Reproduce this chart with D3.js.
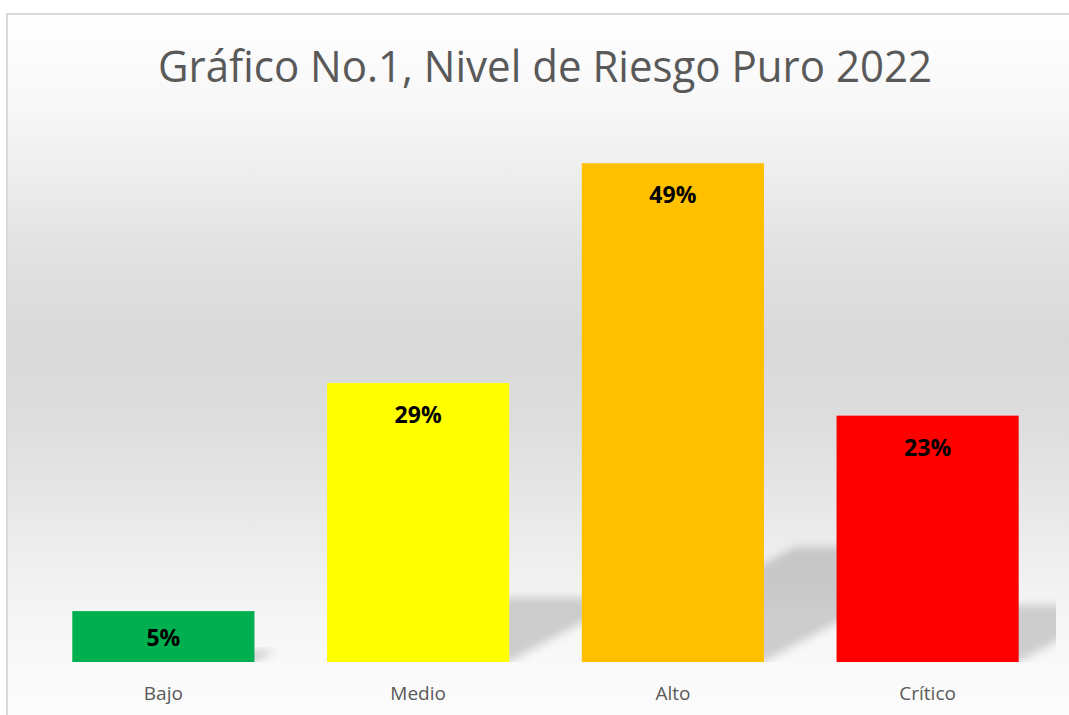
<!DOCTYPE html>
<html>
<head>
<meta charset="utf-8">
<script src="https://cdn.jsdelivr.net/npm/d3@7.9.0/dist/d3.min.js"></script>
<style>
  html, body { margin: 0; padding: 0; background: #fff; }
  svg { display: block; }
</style>
</head>
<body>
<svg id="chart" width="1069" height="715"></svg>
<script>
const categories = ['Bajo', 'Medio', 'Alto', 'Crítico'];
// bar heights as drawn (percent)
const values = [5, 27.4, 49, 24.2];
const valueLabels = ['5%', '29%', '49%', '23%'];
const barColors = ['#00b050', '#ffff00', '#ffc000', '#ff0000'];
const title = 'Gráfico No.1, Nivel de Riesgo Puro 2022';

const W = 1069, H = 715;
const plot = { left: 36, right: 1055, bottom: 662 };

const svg = d3.select('#chart');
const defs = svg.append('defs');

// background gradient of the chart area
const bg = defs.append('linearGradient')
    .attr('id', 'bg')
    .attr('gradientUnits', 'userSpaceOnUse')
    .attr('x1', 0).attr('y1', 14).attr('x2', 0).attr('y2', H);
[[14, '#ffffff'], [110, '#f7f7f7'], [250, '#e2e2e2'], [340, '#d9d9d9'], [430, '#dedede'],
 [540, '#ececec'], [620, '#f6f6f6'], [715, '#fcfcfc']].forEach(([y, c]) => {
    bg.append('stop').attr('offset', (y - 14) / (H - 14)).attr('stop-color', c);
});

const blur = defs.append('filter').attr('id', 'blur')
    .attr('x', '-20%').attr('y', '-20%').attr('width', '140%').attr('height', '140%');
blur.append('feGaussianBlur').attr('stdDeviation', 4);

defs.append('clipPath').attr('id', 'plotClip')
    .append('rect')
    .attr('x', 0).attr('y', 0)
    .attr('width', plot.right + 1).attr('height', plot.bottom);

svg.append('rect')
    .attr('x', 7).attr('y', 14)
    .attr('width', W + 20).attr('height', H + 20)
    .attr('fill', 'url(#bg)')
    .attr('stroke', '#d9d9d9')
    .attr('stroke-width', 2);

const x = d3.scaleBand()
    .domain(categories)
    .range([plot.left, plot.right])
    .paddingInner(0.285)
    .paddingOuter(0.1425);

const y = d3.scaleLinear()
    .domain([0, 50])
    .range([plot.bottom, plot.bottom - 509]);

// perspective shadows
const shadowRatio = 0.23, slope = 0.54;
svg.append('g')
    .attr('clip-path', 'url(#plotClip)')
    .selectAll('path')
    .data(values)
    .join('path')
    .attr('d', (d, i) => {
        const x0 = x(categories[i]), x1 = x0 + x.bandwidth();
        const h = (plot.bottom - y(d)) * shadowRatio;
        const dx = h / slope;
        return `M${x0},${plot.bottom}L${x1},${plot.bottom}L${x1 + dx},${plot.bottom - h}L${x0 + dx},${plot.bottom - h}Z`;
    })
    .attr('fill', '#000')
    .attr('fill-opacity', 0.17)
    .attr('filter', 'url(#blur)');

svg.append('g')
    .selectAll('rect')
    .data(values)
    .join('rect')
    .attr('x', (d, i) => x(categories[i]))
    .attr('y', d => y(d))
    .attr('width', x.bandwidth())
    .attr('height', d => plot.bottom - y(d))
    .attr('fill', (d, i) => barColors[i]);

// data labels
svg.append('g')
    .selectAll('text')
    .data(values)
    .join('text')
    .attr('x', (d, i) => x(categories[i]) + x.bandwidth() / 2)
    .attr('y', d => Math.min(y(d) + 40, (y(d) + plot.bottom) / 2 + 9))
    .attr('text-anchor', 'middle')
    .attr('font-family', 'Open Sans, Noto Sans, sans-serif')
    .attr('font-weight', 'bold')
    .attr('font-size', 23)
    .attr('fill', '#000')
    .text((d, i) => valueLabels[i]);

// category axis labels
const xAxis = svg.append('g')
    .attr('transform', `translate(0,${plot.bottom})`)
    .call(d3.axisBottom(x).tickSize(0).tickPadding(0));
xAxis.select('.domain').remove();
xAxis.selectAll('text')
    .attr('dy', null)
    .attr('y', 38)
    .attr('font-family', 'Open Sans, Noto Sans, sans-serif')
    .attr('font-size', 19)
    .attr('fill', '#595959');

svg.append('text')
    .attr('x', 545)
    .attr('y', 82)
    .attr('text-anchor', 'middle')
    .attr('font-family', 'Open Sans, Noto Sans, sans-serif')
    .attr('font-size', 44)
    .attr('fill', '#595959')
    .attr('textLength', 774)
    .attr('lengthAdjust', 'spacingAndGlyphs')
    .text(title);
</script>
</body>
</html>
